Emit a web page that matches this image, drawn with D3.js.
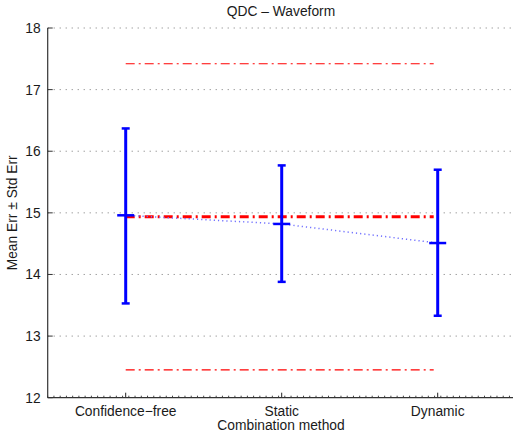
<!DOCTYPE html>
<html>
<head>
<meta charset="utf-8">
<script src="https://cdn.jsdelivr.net/npm/d3@7"></script>
<style>
  html, body { margin: 0; padding: 0; background: #fff; }
  svg { display: block; font-family: "Liberation Sans", Arial, sans-serif; }
</style>
</head>
<body>
<svg id="chart" width="513" height="432"></svg>
<script>
// Combination methods and their error statistics
const categories = ["Confidence\u2212free", "Static", "Dynamic"];
const meanErr  = [14.96, 14.82, 14.51];
const upperErr = [16.37, 15.77, 15.70];
const lowerErr = [13.53, 13.88, 13.33];

// Reference band: overall mean and its limits
const refMean  = 14.935;
const refUpper = 17.42;
const refLower = 12.45;

const yTicks = [12, 13, 14, 15, 16, 17, 18];
const title = "QDC \u2013 Waveform";
const xTitle = "Combination method";
const yTitle = "Mean Err \u00b1 Std Err";

const svg = d3.select("#chart");
const plotLeft = 47.7, plotRight = 515.7, plotTop = 28, plotBottom = 397.7;
const fs = 13.8;

const x = d3.scaleLinear().domain([0.5, 3.5]).range([plotLeft, plotRight]);
const y = d3.scaleLinear().domain([12, 18]).range([plotBottom, plotTop]);
const idx = categories.map((_, i) => i + 1);

// horizontal dotted grid
svg.append("g").selectAll("line").data(yTicks.filter(t => t > 12)).join("line")
  .attr("x1", plotLeft).attr("x2", 513)
  .attr("y1", d => y(d)).attr("y2", d => y(d))
  .attr("stroke", "#777").attr("stroke-width", 1)
  .attr("stroke-dasharray", "1,5");

// bottom axis with minor ticks
const minor = d3.range(0.5, 3.5001, 0.04);
const gx = svg.append("g");
gx.selectAll("line.minor").data(minor).join("line")
  .attr("class", "minor")
  .attr("x1", d => x(d)).attr("x2", d => x(d))
  .attr("y1", plotBottom).attr("y2", plotBottom - 2)
  .attr("stroke", "#444").attr("stroke-width", 1);
gx.selectAll("line.major").data(idx).join("line")
  .attr("class", "major")
  .attr("x1", d => x(d)).attr("x2", d => x(d))
  .attr("y1", plotBottom).attr("y2", plotBottom - 5)
  .attr("stroke", "#222").attr("stroke-width", 1);
gx.append("line").attr("x1", plotLeft).attr("x2", 513)
  .attr("y1", plotBottom).attr("y2", plotBottom).attr("stroke", "#333").attr("stroke-width", 1.2);
gx.selectAll("text").data(idx).join("text")
  .attr("x", d => x(d)).attr("y", plotBottom + 18)
  .attr("text-anchor", "middle").attr("font-size", fs).attr("fill", "#1a1a1a")
  .text((d, i) => categories[i]);

// left axis
const gy = svg.append("g");
gy.append("line").attr("x1", plotLeft).attr("x2", plotLeft)
  .attr("y1", plotTop).attr("y2", plotBottom).attr("stroke", "#333").attr("stroke-width", 1.2);
gy.selectAll("line.t").data(yTicks).join("line")
  .attr("class", "t")
  .attr("x1", plotLeft).attr("x2", plotLeft + 5)
  .attr("y1", d => y(d)).attr("y2", d => y(d))
  .attr("stroke", "#333");
gy.selectAll("text").data(yTicks).join("text")
  .attr("x", plotLeft - 7).attr("y", d => y(d) + 5)
  .attr("text-anchor", "end").attr("font-size", fs).attr("fill", "#1a1a1a")
  .text(d => d);

// reference lines
const refLines = [
  { v: refUpper, w: 1.2 },
  { v: refLower, w: 1.2 },
  { v: refMean,  w: 3 }
];
svg.append("g").selectAll("line").data(refLines).join("line")
  .attr("x1", x(1)).attr("x2", x(3) - 4)
  .attr("y1", d => y(d.v)).attr("y2", d => y(d.v))
  .attr("stroke", "#ff0000").attr("stroke-width", d => d.w)
  .attr("stroke-dasharray", "9,4,2,4");

// dotted line joining the means
svg.append("path")
  .datum(meanErr)
  .attr("d", d3.line().x((d, i) => x(i + 1)).y(d => y(d)))
  .attr("fill", "none").attr("stroke", "#7070ff").attr("stroke-width", 1.5)
  .attr("stroke-dasharray", "1.2,3");

// error bars
const eb = svg.append("g").attr("stroke", "#0000ff").attr("stroke-width", 3);
eb.selectAll("line.v").data(idx).join("line")
  .attr("class", "v")
  .attr("x1", d => x(d)).attr("x2", d => x(d))
  .attr("y1", (d, i) => y(upperErr[i])).attr("y2", (d, i) => y(lowerErr[i]));
eb.selectAll("line.cu").data(idx).join("line")
  .attr("class", "cu")
  .attr("x1", d => x(d) - 4).attr("x2", d => x(d) + 4)
  .attr("y1", (d, i) => y(upperErr[i])).attr("y2", (d, i) => y(upperErr[i]))
  .attr("stroke-width", 2.5);
eb.selectAll("line.cl").data(idx).join("line")
  .attr("class", "cl")
  .attr("x1", d => x(d) - 4).attr("x2", d => x(d) + 4)
  .attr("y1", (d, i) => y(lowerErr[i])).attr("y2", (d, i) => y(lowerErr[i]))
  .attr("stroke-width", 2.5);
eb.selectAll("line.m").data(idx).join("line")
  .attr("class", "m")
  .attr("x1", d => x(d) - 8.5).attr("x2", d => x(d) + 8.5)
  .attr("y1", (d, i) => y(meanErr[i])).attr("y2", (d, i) => y(meanErr[i]))
  .attr("stroke-width", 2.5);

// titles
svg.append("text").attr("x", 281).attr("y", 16)
  .attr("text-anchor", "middle").attr("font-size", fs).attr("fill", "#1a1a1a").text(title);
svg.append("text").attr("x", 281).attr("y", 430)
  .attr("text-anchor", "middle").attr("font-size", fs).attr("fill", "#1a1a1a").text(xTitle);
svg.append("text").attr("transform", `translate(17,${(plotTop + plotBottom) / 2}) rotate(-90)`)
  .attr("text-anchor", "middle").attr("font-size", fs).attr("fill", "#1a1a1a").text(yTitle);
</script>
</body>
</html>
